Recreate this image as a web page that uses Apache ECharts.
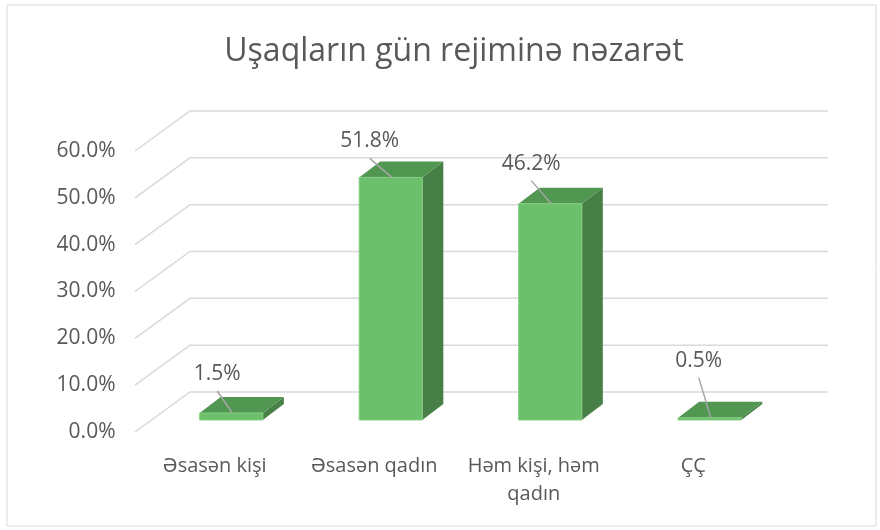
<!DOCTYPE html>
<html>
<head>
<meta charset="utf-8">
<script src="https://cdn.jsdelivr.net/npm/echarts@6/dist/echarts.min.js"></script>
<style>
html, body { margin: 0; padding: 0; background: #fff; }
#main { width: 880px; height: 530px; }
</style>
</head>
<body>
<div id="main"></div>
<script>
var categories = ['Əsasən kişi', 'Əsasən qadın', 'Həm kişi, həm qadın', 'ÇÇ'];
var shares = [1.5, 51.8, 46.2, 0.5];
var yTicks = [0, 10, 20, 30, 40, 50, 60];

// fake 3D: bar depth, floor edge in front of bars, back wall behind bars
var DX = 21, DY = 16;
var FX = 16.5, FY = 12;
var BX = 38.5, BY = 28;
// where Excel dropped each data label (relative to bar top centre)
var labelNudge = [[-14, -39], [-21, -36], [-19, -40], [-11, -57]];

var txt = '#595959';
var font = '"Open Sans", "Noto Sans", sans-serif';

function renderWall(params, api) {
    var cs = params.coordSys;
    var y = api.coord([0, api.value(1)])[1];
    return {
        type: 'polyline',
        shape: { points: [[cs.x - FX, y + FY], [cs.x + BX, y - BY], [cs.x + cs.width + BX, y - BY]] },
        style: { stroke: '#d9d9d9', lineWidth: 1.5, fill: null }
    };
}

function renderBar(params, api) {
    var i = api.value(0);
    var v = api.value(1);
    var base = api.coord([i, 0]);
    var top = api.coord([i, v]);
    var half = api.size([1, 0])[0] * 0.198;
    var cx = base[0], yb = base[1], yt = top[1];
    var l = cx - half, r = cx + half;
    var nd = labelNudge[params.dataIndex];
    var lx = cx + nd[0], ly = yt + nd[1];
    return {
        type: 'group',
        children: [
            { type: 'polygon', shape: { points: [[r, yt], [r + DX, yt - DY], [r + DX, yb - DY], [r, yb]] },
              style: { fill: '#477f46' } },
            { type: 'polygon', shape: { points: [[l, yt], [r, yt], [r + DX, yt - DY], [l + DX, yt - DY]] },
              style: { fill: '#519651' } },
            { type: 'rect', shape: { x: l, y: yt, width: r - l, height: yb - yt },
              style: { fill: '#6cbf6b', stroke: '#85cc84', lineWidth: 1 } },
            { type: 'line', shape: { x1: lx, y1: ly + 17, x2: cx + 1, y2: yt },
              style: { stroke: '#a6a6a6', lineWidth: 1.5 } },
            { type: 'text', x: lx, y: ly,
              style: { text: v.toFixed(1) + '%', fill: txt, font: '21px ' + font, align: 'center', verticalAlign: 'middle' } }
        ]
    };
}

var chart = echarts.init(document.getElementById('main'));
chart.setOption({
    animation: false,
    backgroundColor: '#fff',
    title: {
        text: 'Uşaqların gün rejiminə nəzarət',
        left: 449, top: 31, textAlign: 'center',
        textStyle: { color: txt, fontSize: 32, fontWeight: 'normal', fontFamily: font }
    },
    graphic: [{
        type: 'rect', shape: { x: 7, y: 5, width: 869, height: 521 },
        style: { fill: null, stroke: '#d9d9d9', lineWidth: 1 }, silent: true
    }],
    grid: { left: 151.5, right: 90.5, top: 139, bottom: 110 },
    xAxis: {
        type: 'category',
        data: categories,
        axisLine: { show: false },
        axisTick: { show: false },
        axisLabel: {
            color: txt, fontSize: 20, fontFamily: font, margin: 32,
            lineHeight: 28, interval: 0,
            padding: [0, 33, 0, 0],
            formatter: function (s) { return s.length > 15 ? s.replace(/ (\S+)$/, '\n$1') : s; }
        }
    },
    yAxis: {
        type: 'value',
        min: 0, max: 60, interval: 10,
        axisLine: { show: false },
        axisTick: { show: false },
        splitLine: { show: false },
        axisLabel: {
            margin: 36,
            formatter: function (v) { return '{a|' + v.toFixed(1) + '%}'; },
            rich: { a: { color: txt, fontSize: 21, fontFamily: font, padding: [24, 0, 0, 0] } }
        }
    },
    series: [
        {
            type: 'custom', z: 1, silent: true,
            data: yTicks.map(function (t) { return [0, t]; }),
            renderItem: renderWall
        },
        {
            type: 'custom', z: 2,
            data: shares.map(function (s, i) { return [i, s]; }),
            renderItem: renderBar
        }
    ]
});
</script>
</body>
</html>
